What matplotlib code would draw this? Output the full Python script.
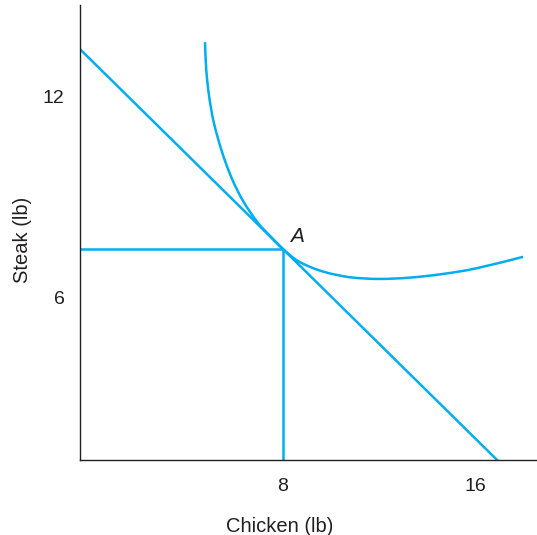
import matplotlib.pyplot as plt
from matplotlib.path import Path
from matplotlib.patches import PathPatch

# point A (tangency) and the budget line slope
a_chicken = 8.0
a_steak = 7.43
budget_slope = -0.706

# indifference curve
curve_chicken = [4.75, 4.80, 4.92, 5.12, 5.45, 5.86, 6.35, 6.95, 7.45, 8.0,
                 8.57, 9.125, 9.67, 10.24, 10.92, 12.0, 13.29, 14.67, 16.07, 18.0]
curve_steak = [13.61, 12.80, 12.0, 11.2, 10.35, 9.55, 8.85, 8.22, 7.83, 7.43,
               7.10, 6.90, 6.76, 6.66, 6.58, 6.54, 6.58, 6.69, 6.86, 7.20]

x_ticks = [8, 16]
y_ticks = [6, 12]

blue = '#00AEEF'
ink = '#231f20'
plt.rcParams['font.family'] = ['Liberation Sans', 'DejaVu Sans']


def smooth_path(xs, ys):
    # catmull-rom through the read points, as cubic bezier segments
    pts = list(zip(xs, ys))
    verts = [pts[0]]
    codes = [Path.MOVETO]
    for i in range(len(pts) - 1):
        p0 = pts[max(i - 1, 0)]
        p1 = pts[i]
        p2 = pts[i + 1]
        p3 = pts[min(i + 2, len(pts) - 1)]
        c1 = (p1[0] + (p2[0] - p0[0]) / 6, p1[1] + (p2[1] - p0[1]) / 6)
        c2 = (p2[0] - (p3[0] - p1[0]) / 6, p2[1] - (p3[1] - p1[1]) / 6)
        verts += [c1, c2, p2]
        codes += [Path.CURVE4] * 3
    return Path(verts, codes)


fig = plt.figure(figsize=(5.37, 5.35), dpi=100)
ax = fig.add_axes([80 / 537, 75 / 535, 457 / 537, 455 / 535])
ax.set_xlim(-0.458, 18.58)
ax.set_ylim(1.134, 14.72)

# budget line through A
ax.axline((a_chicken, a_steak), slope=budget_slope, color=blue, lw=1.8)
# drop lines to the axes
ax.hlines(a_steak, ax.get_xlim()[0], a_chicken, color=blue, lw=1.8)
ax.vlines(a_chicken, ax.get_ylim()[0], a_steak, color=blue, lw=1.8)
# indifference curve
ax.add_patch(PathPatch(smooth_path(curve_chicken, curve_steak), fill=False,
                       edgecolor=blue, lw=1.8, capstyle='butt'))

ax.text(a_chicken + 0.6, a_steak + 0.38, 'A', fontsize=15, style='italic',
        ha='center', va='center', color=ink)

ax.set_xticks(x_ticks)
ax.set_yticks(y_ticks)
ax.tick_params(length=0, labelsize=14, colors=ink)
ax.tick_params(axis='x', pad=13)
ax.tick_params(axis='y', pad=11)
ax.spines['top'].set_visible(False)
ax.spines['right'].set_visible(False)
for s in ('left', 'bottom'):
    ax.spines[s].set_color(ink)
    ax.spines[s].set_linewidth(1.0)

ax.set_xlabel('Chicken (lb)', fontsize=14.5, color=ink)
ax.set_ylabel('Steak (lb)', fontsize=14.5, color=ink)
ax.xaxis.set_label_coords((280 - 80) / 457, -(527 - 460) / 455)
ax.yaxis.set_label_coords(-(80 - 22) / 457, (460 - 240) / 455)
ax.xaxis.label.set_va('center')
ax.yaxis.label.set_va('center')

fig.savefig('out.png', dpi=100)
